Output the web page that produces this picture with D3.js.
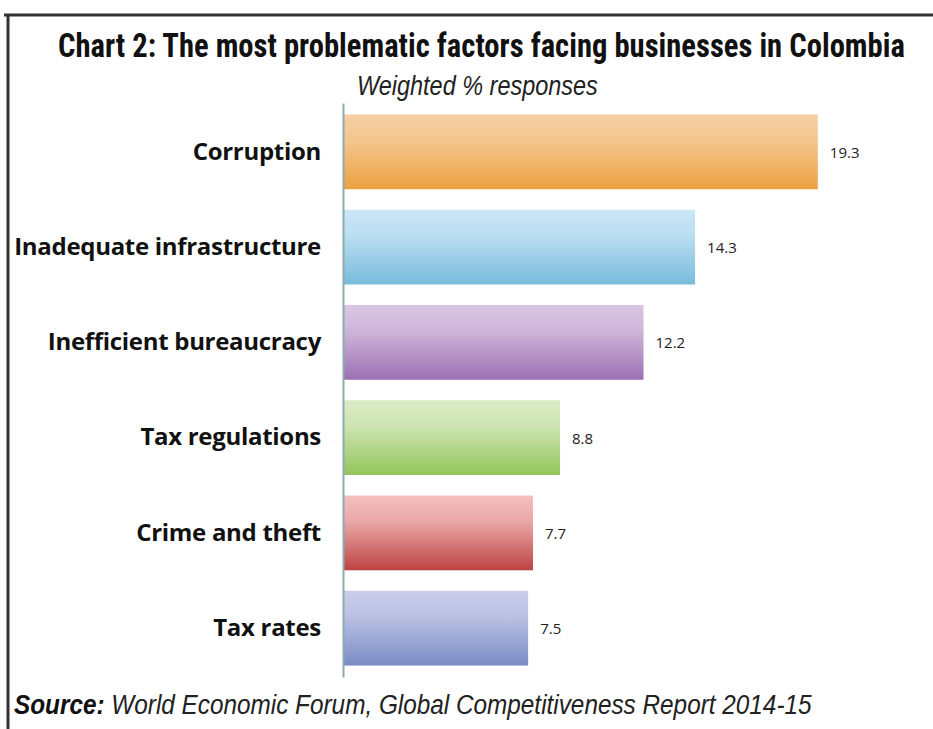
<!DOCTYPE html>
<html>
<head>
<meta charset="utf-8">
<script src="https://cdn.jsdelivr.net/npm/d3@7"></script>
<style>
  html, body { margin: 0; padding: 0; background: #fff; }
  svg { display: block; }
</style>
</head>
<body>
<svg id="chart" width="933" height="729"></svg>
<script>
const categories = ["Corruption", "Inadequate infrastructure", "Inefficient bureaucracy", "Tax regulations", "Crime and theft", "Tax rates"];
const values = [19.3, 14.3, 12.2, 8.8, 7.7, 7.5];
const valueLabels = ["19.3", "14.3", "12.2", "8.8", "7.7", "7.5"];
const colorsTop = ["#f6cfa3", "#cbe7f7", "#dac6e2", "#dcecc6", "#f5c0c0", "#c9cde9"];
const colorsBottom = ["#eca040", "#78bbdb", "#9b70b3", "#93c45b", "#bd4343", "#7a8bc6"];

const svg = d3.select("#chart");
const W = 933, H = 729;

// Frame
svg.append("line").attr("x1", 4).attr("x2", W).attr("y1", 15).attr("y2", 15)
  .attr("stroke", "#333").attr("stroke-width", 3);
svg.append("line").attr("x1", 8).attr("x2", 8).attr("y1", 14).attr("y2", H)
  .attr("stroke", "#333").attr("stroke-width", 3);

// Helper: draw text at natural size then squeeze horizontally to target width
function fitText(sel, left, baseline, targetWidth) {
  const w = sel.node().getComputedTextLength();
  const s = Math.min(1, targetWidth / w);
  sel.attr("x", 0).attr("y", 0)
    .attr("transform", `translate(${left},${baseline}) scale(${s},1)`);
}

// Title
const title = svg.append("text")
  .attr("font-family", "'Liberation Sans Narrow', 'Arial Narrow', 'Roboto Condensed', Roboto, sans-serif")
  .attr("font-weight", "bold")
  .attr("font-size", 33)
  .attr("fill", "#111")
  .text("Chart 2: The most problematic factors facing businesses in Colombia");
fitText(title, 58, 57, 847);

const sub = svg.append("text")
  .attr("font-family", "'Liberation Sans Narrow', 'Arial Narrow', sans-serif")
  .attr("font-style", "italic")
  .attr("font-size", 27)
  .attr("fill", "#222")
  .text("Weighted % responses");
fitText(sub, 357, 95, 241);

// Scales
const x = d3.scaleLinear().domain([0, 20]).range([344, 344 + 24.55 * 20]);
const y = d3.scaleBand().domain(categories).range([103, 677]).paddingInner(0.215).paddingOuter(0.12);

// Gradients
const defs = svg.append("defs");
categories.forEach((c, i) => {
  const g = defs.append("linearGradient").attr("id", "grad" + i)
    .attr("x1", 0).attr("y1", 0).attr("x2", 0).attr("y2", 1);
  g.append("stop").attr("offset", "0%").attr("stop-color", colorsTop[i]);
  g.append("stop").attr("offset", "35%").attr("stop-color", d3.interpolateRgb(colorsTop[i], colorsBottom[i])(0.2));
  g.append("stop").attr("offset", "100%").attr("stop-color", colorsBottom[i]);
});

const data = categories.map((c, i) => ({ c, v: values[i], label: valueLabels[i], i }));

// Bars
svg.append("g").selectAll("rect").data(data).join("rect")
  .attr("x", x(0))
  .attr("y", d => y(d.c))
  .attr("width", d => x(d.v) - x(0))
  .attr("height", y.bandwidth())
  .attr("fill", d => `url(#grad${d.i})`);

// Axis line (category axis)
const axis = d3.axisLeft(y).tickSize(0).tickPadding(22);
const axG = svg.append("g").attr("transform", `translate(${x(0) - 1},0)`).call(axis);
axG.select(".domain").attr("stroke", "#8fa8ae").attr("stroke-width", 2);
axG.selectAll(".tick text")
  .attr("font-family", "'Open Sans', Lato, sans-serif")
  .attr("font-weight", "bold")
  .attr("font-size", 24)
  .attr("letter-spacing", -0.3)
  .attr("fill", "#111");

// Value labels
svg.append("g").selectAll("text").data(data).join("text")
  .attr("x", d => x(d.v) + 12)
  .attr("y", d => y(d.c) + y.bandwidth() / 2 + 6)
  .attr("font-family", "'Open Sans', Lato, sans-serif")
  .attr("font-size", 15)
  .attr("fill", "#222")
  .text(d => d.label);

// Source
const src = svg.append("text")
  .attr("font-family", "'Liberation Sans Narrow', 'Arial Narrow', sans-serif")
  .attr("font-style", "italic")
  .attr("font-size", 27)
  .attr("fill", "#222");
src.append("tspan").attr("font-weight", "bold").attr("fill", "#111").text("Source:");
src.append("tspan").text(" World Economic Forum, Global Competitiveness Report 2014-15");
fitText(src, 14, 714, 798);
</script>
</body>
</html>
